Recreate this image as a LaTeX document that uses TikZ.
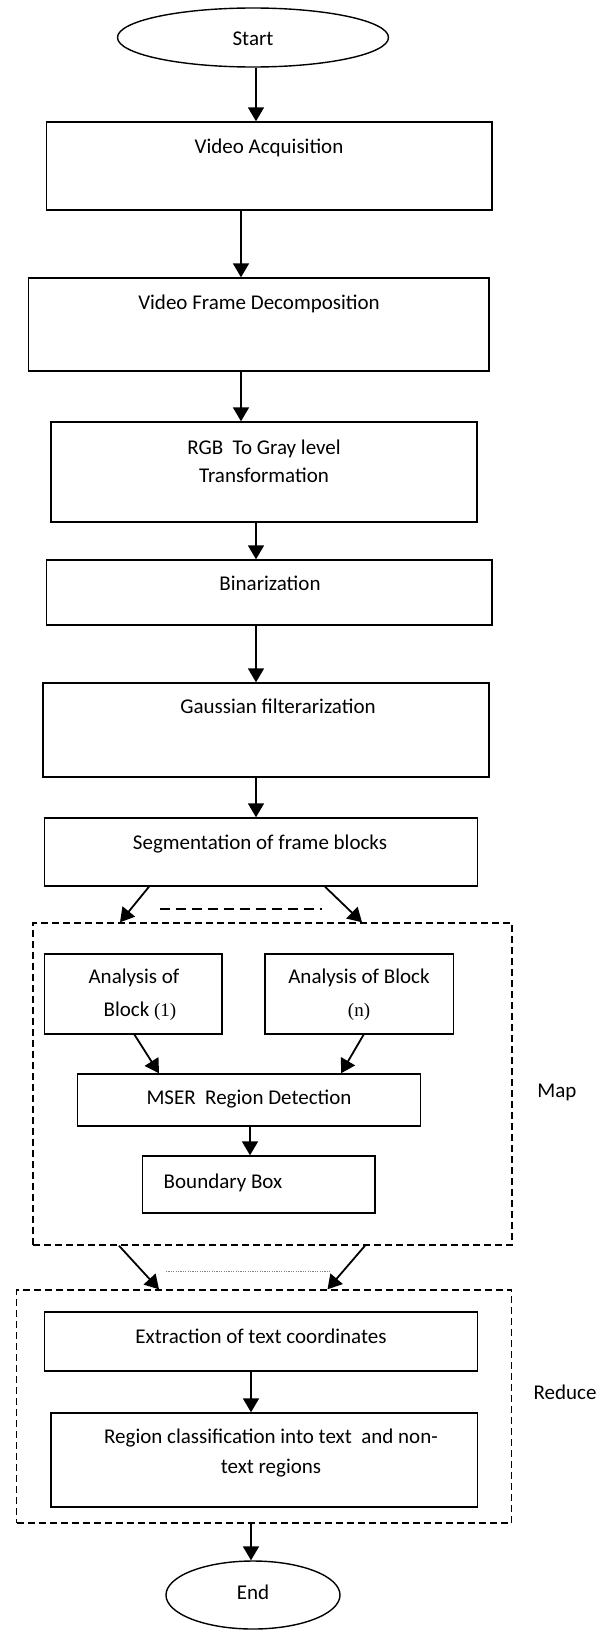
\documentclass[tikz,border=0pt]{standalone}
\usepackage{fontspec}
\setmainfont{Carlito}
\newfontfamily\numfont{Liberation Serif}
\usetikzlibrary{arrows.meta,shapes.geometric}
\newcommand\flowbox[6]{\node[#2, minimum width={#5-#3}, minimum height={#6-#4}] (#1) at ({(#3+#5)/2},{(#4+#6)/2}) {};}
\begin{document}
\begin{tikzpicture}[x=1pt,y=-1pt,
  bx/.style={draw, line width=1.4pt, rectangle, inner sep=0pt},
  grp/.style={draw, line width=1.4pt, rectangle, inner sep=0pt, dash pattern=on 7pt off 4pt},
  el/.style={draw, ellipse, line width=1.4pt, inner sep=0pt},
  arr/.style={line width=1.8pt, -{Triangle[width=16pt,length=14pt]}},
  txt/.style={font=\fontsize{21}{26}\selectfont, inner sep=0pt, align=center, text height=15pt, text depth=2pt}
]
\useasboundingbox (0,0) rectangle (608,1630);
% ellipses
\node[el, minimum width=271pt, minimum height=59pt] (start) at (253,37.5) {};
\node[el, minimum width=174pt, minimum height=68pt] (end) at (253,1595) {};
% boxes
\flowbox{va}{bx}{46.5}{122}{492}{210}
\flowbox{vfd}{bx}{28.7}{278}{489}{371}
\flowbox{rgb}{bx}{51}{422}{477}{522}
\flowbox{bin}{bx}{46.5}{560}{492}{625}
\flowbox{gau}{bx}{43}{683}{489}{777}
\flowbox{seg}{bx}{44.6}{818}{477.5}{886}
\flowbox{map}{grp}{33}{923}{512}{1245}
\flowbox{aone}{bx}{44.6}{954}{222}{1034}
\flowbox{an}{bx}{265}{954}{453.5}{1034}
\flowbox{mser}{bx}{77.5}{1074}{420.5}{1126}
\flowbox{bb}{bx}{142.6}{1156}{375}{1213}
\flowbox{red}{grp}{16.7}{1290}{511.6}{1523}
\flowbox{ext}{bx}{44.6}{1312}{477.5}{1371}
\flowbox{reg}{bx}{51}{1413}{477.5}{1507}
% texts
\node[txt] (tstart) at (253,39) {Start};
\node[txt] (tend) at (253,1593) {End};
\node[txt] (tva) at (269,147) {Video Acquisition};
\node[txt] (tvfd) at (259,303) {Video Frame Decomposition};
\node[txt, font=\fontsize{21}{28}\selectfont, text height=, text depth=] (trgb) at (264,461) {RGB~ To Gray level\\Transformation};
\node[txt] (tbin) at (270,584) {Binarization};
\node[txt] (tgau) at (278,707) {Gaussian filterarization};
\node[txt] (tseg) at (260,843) {Segmentation of frame blocks};
\node[txt, font=\fontsize{21}{33}\selectfont, text height=, text depth=] (taone) at (134,994.5) {Analysis of\\\hspace*{12pt}Block {\numfont\fontsize{19}{33}\selectfont(1)}};
\node[txt, font=\fontsize{21}{33}\selectfont, text height=, text depth=] (tan) at (359,994.5) {Analysis of Block\\{\numfont\fontsize{19}{33}\selectfont(n)}};
\node[txt] (tmser) at (249,1098) {MSER~ Region Detection};
\node[txt] (tbb) at (223,1182) {Boundary Box};
\node[txt] (text) at (261,1337) {Extraction of text coordinates};
\node[txt, font=\fontsize{21}{30}\selectfont, text height=, text depth=] (treg) at (271,1453) {Region classification into text~ and non-\\text regions};
\node[txt] (tmap) at (557,1091) {Map};
\node[txt] (tred) at (565,1393) {Reduce};
% column coordinates
\coordinate (c256) at (256,0);
\coordinate (c241) at (241,0);
\coordinate (c250) at (250,0);
\coordinate (c251) at (251,0);
\coordinate (c149) at (149,0);
\coordinate (c120) at (120,0);
\coordinate (c325) at (325,0);
\coordinate (c362) at (362,0);
\coordinate (c134) at (134.5,0);
\coordinate (c159) at (159,0);
\coordinate (c363) at (363.6,0);
\coordinate (c341) at (341,0);
\coordinate (c119) at (119,0);
\coordinate (c365) at (365,0);
\coordinate (c327) at (327.5,0);
% connectors
\draw[arr] (start.south -| c256) -- (va.north -| c256);
\draw[arr] (va.south -| c241) -- (vfd.north -| c241);
\draw[arr] (vfd.south -| c241) -- (rgb.north -| c241);
\draw[arr] (rgb.south -| c256) -- (bin.north -| c256);
\draw[arr] (bin.south -| c256) -- (gau.north -| c256);
\draw[arr] (gau.south -| c256) -- (seg.north -| c256);
\draw[arr] (seg.south -| c149) -- (map.north -| c120);
\draw[arr] (seg.south -| c325) -- (map.north -| c362);
\draw[arr] (aone.south -| c134) -- (mser.north -| c159);
\draw[arr] (an.south -| c363) -- (mser.north -| c341);
\draw[arr] (mser.south -| c250) -- (bb.north -| c250);
\draw[arr] (map.south -| c119) -- (red.north -| c159);
\draw[arr] (map.south -| c365) -- (red.north -| c327);
\draw[arr] (ext.south -| c251) -- (reg.north -| c251);
\draw[arr] (red.south -| c251) -- (end.north -| c251);
% ellipsis lines
\draw[line width=1.2pt, dash pattern=on 10pt off 6pt] (160,909) -- (322,909);
\draw[gray, line width=0.8pt, dash pattern=on 1.2pt off 1.2pt] (166,1271) -- (331,1271);
\end{tikzpicture}
\end{document}
